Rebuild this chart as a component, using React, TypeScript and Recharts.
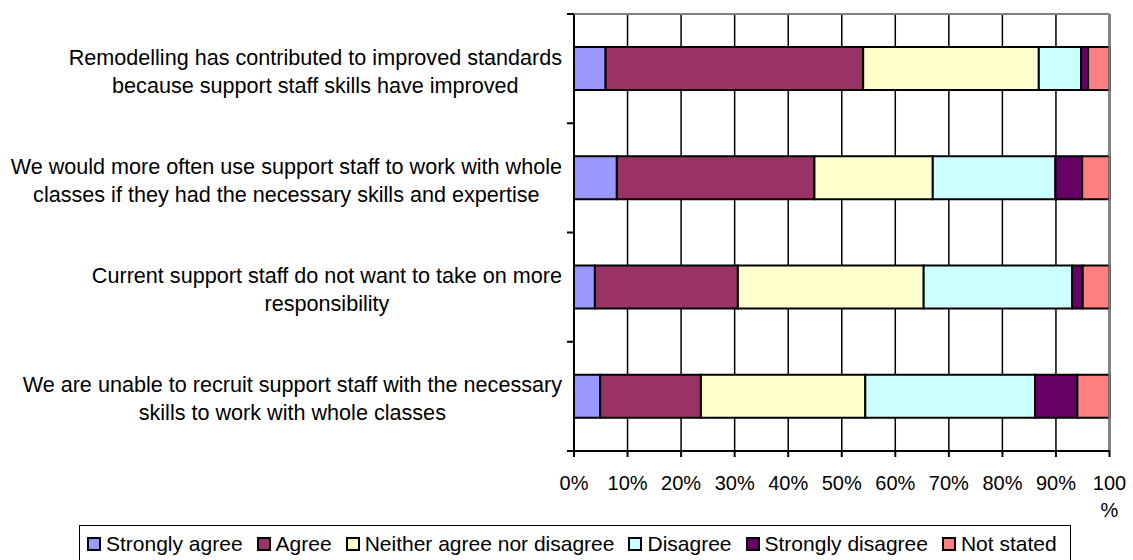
import React from 'react';
import { BarChart, Bar, XAxis, YAxis, CartesianGrid, ReferenceLine } from 'recharts';

const CATEGORIES = [
    'Remodelling has contributed to improved standards\nbecause support staff skills have improved',
    'We would more often use support staff to work with whole\nclasses if they had the necessary skills and expertise',
    'Current support staff do not want to take on more\nresponsibility',
    'We are unable to recruit support staff with the necessary\nskills to work with whole classes',
];

const SERIES_NAMES = ['Strongly agree', 'Agree', 'Neither agree nor disagree', 'Disagree', 'Strongly disagree', 'Not stated'];
const SERIES_COLORS = ['#9999FF', '#993366', '#FFFFCC', '#CCFFFF', '#660066', '#FF8080'];

const STRONGLY_AGREE = [5.9, 8.0, 3.9, 4.9];
const AGREE = [48.1, 36.9, 26.7, 18.8];
const NEITHER = [32.8, 22.1, 34.7, 30.7];
const DISAGREE = [7.9, 22.9, 27.7, 31.7];
const STRONGLY_DISAGREE = [1.3, 5.0, 2.0, 7.9];
const NOT_STATED = [4.0, 5.1, 5.0, 6.0];

const X_TICKS = [0, 10, 20, 30, 40, 50, 60, 70, 80, 90, 100];

const SERIES_VALUES = [STRONGLY_AGREE, AGREE, NEITHER, DISAGREE, STRONGLY_DISAGREE, NOT_STATED];

const data = CATEGORIES.map((name, i) => {
    const row: any = { name };
    SERIES_NAMES.forEach((s, k) => {
        row[s] = SERIES_VALUES[k][i];
    });
    return row;
});

// layout constants
const W = 1133;
const H = 560;
const PLOT_LEFT = 574;
const PLOT_TOP = 14;
const PLOT_BOTTOM = 451;
const BAND = (PLOT_BOTTOM - PLOT_TOP) / CATEGORIES.length;
const FONT = "'Liberation Sans', Arial, sans-serif";
const AXIS_FONT_SIZE = 20;
const LABEL_FONT_SIZE = 21.6;
const LEGEND_FONT_SIZE = 21;

let ctx: CanvasRenderingContext2D | null = null;
function textWidth(s: string) {
    if (!ctx) ctx = document.createElement('canvas').getContext('2d');
    if (!ctx) return s.length * 10;
    ctx.font = `${LABEL_FONT_SIZE}px ${FONT}`;
    return ctx.measureText(s).width;
}

function CategoryTick(props: any) {
    const { y, payload, index } = props;
    const lines: string[] = String(payload.value).split('\n');
    const maxW = Math.max(...lines.map(textWidth));
    const right = 562;
    const cx = right - maxW / 2;
    const lh = 28;
    const startY = y + 2.5 - ((lines.length - 1) * lh) / 2;
    return (
        <g>
            <line x1={PLOT_LEFT - 7} x2={PLOT_LEFT} y1={y - BAND / 2} y2={y - BAND / 2} stroke="#000" strokeWidth={2} />
            {index === CATEGORIES.length - 1 && (
                <line x1={PLOT_LEFT - 7} x2={PLOT_LEFT} y1={y + BAND / 2} y2={y + BAND / 2} stroke="#000" strokeWidth={2} />
            )}
            {lines.map((l, i) => (
                <text
                    key={i}
                    x={cx}
                    y={startY + i * lh}
                    dy="0.35em"
                    textAnchor="middle"
                    fontFamily={FONT}
                    fontSize={LABEL_FONT_SIZE}
                    fill="#000"
                >
                    {l}
                </text>
            ))}
        </g>
    );
}

function PercentTick(props: any) {
    const { x, y, payload } = props;
    const v = payload.value;
    // Excel wrapped the last label onto two lines
    if (v === 100) {
        return (
            <g>
                <text x={x} y={y + 30.5} textAnchor="middle" fontFamily={FONT} fontSize={AXIS_FONT_SIZE} fill="#000">100</text>
                <text x={x} y={y + 57.5} textAnchor="middle" fontFamily={FONT} fontSize={AXIS_FONT_SIZE} fill="#000">%</text>
            </g>
        );
    }
    return (
        <text x={x} y={y + 30.5} textAnchor="middle" fontFamily={FONT} fontSize={AXIS_FONT_SIZE} fill="#000">
            {v}%
        </text>
    );
}

function LegendBox() {
    return (
        <div
            style={{
                position: 'absolute',
                left: 79,
                top: 525,
                width: 992,
                height: 40,
                border: '1px solid #000',
                boxSizing: 'border-box',
                display: 'flex',
                alignItems: 'flex-start',
                paddingTop: 7,
                paddingLeft: 7,
                fontFamily: FONT,
                fontSize: LEGEND_FONT_SIZE,
                lineHeight: '22px',
                color: '#000',
                whiteSpace: 'nowrap',
            }}
        >
            {SERIES_NAMES.map((s, i) => (
                <div key={s} style={{ display: 'flex', alignItems: 'center', marginRight: 14 }}>
                    <span
                        style={{
                            display: 'inline-block',
                            width: 10,
                            height: 10,
                            background: SERIES_COLORS[i],
                            border: '2px solid #000',
                            marginRight: 5,
                        }}
                    />
                    <span>{s}</span>
                </div>
            ))}
        </div>
    );
}

export default function App() {
    return (
        <div style={{ position: 'absolute', left: 0, top: 0, width: W, height: H, background: '#fff', overflow: 'hidden' }}>
            <BarChart
                width={W}
                height={H}
                data={data}
                layout="vertical"
                margin={{ top: PLOT_TOP, right: 23.5, bottom: 69, left: 0 }}
                barSize={43}
            >
                <CartesianGrid vertical horizontal={false} stroke="#000" strokeWidth={1.5} />
                <XAxis
                    type="number"
                    domain={[0, 100]}
                    ticks={X_TICKS}
                    interval={0}
                    height={40}
                    axisLine={{ stroke: '#000', strokeWidth: 2 }}
                    tickLine={{ stroke: '#000', strokeWidth: 2 }}
                    tickSize={6}
                    tickMargin={2}
                    tick={<PercentTick />}
                />
                <YAxis
                    type="category"
                    dataKey="name"
                    width={PLOT_LEFT}
                    axisLine={{ stroke: '#000', strokeWidth: 2 }}
                    tickLine={false}
                    interval={0}
                    tick={<CategoryTick />}
                />
                {SERIES_NAMES.map((s, i) => (
                    <Bar
                        key={s}
                        dataKey={s}
                        stackId="a"
                        fill={SERIES_COLORS[i]}
                        stroke="#000"
                        strokeWidth={2}
                        isAnimationActive={false}
                    />
                ))}
                <ReferenceLine x={100} stroke="#808080" strokeWidth={2} />
            </BarChart>
            <svg style={{ position: 'absolute', left: 0, top: 0, pointerEvents: 'none' }} width={W} height={H}>
                <line x1={PLOT_LEFT} x2={W - 23.5} y1={PLOT_TOP} y2={PLOT_TOP} stroke="#808080" strokeWidth={2} />
            </svg>
            <LegendBox />
        </div>
    );
}
